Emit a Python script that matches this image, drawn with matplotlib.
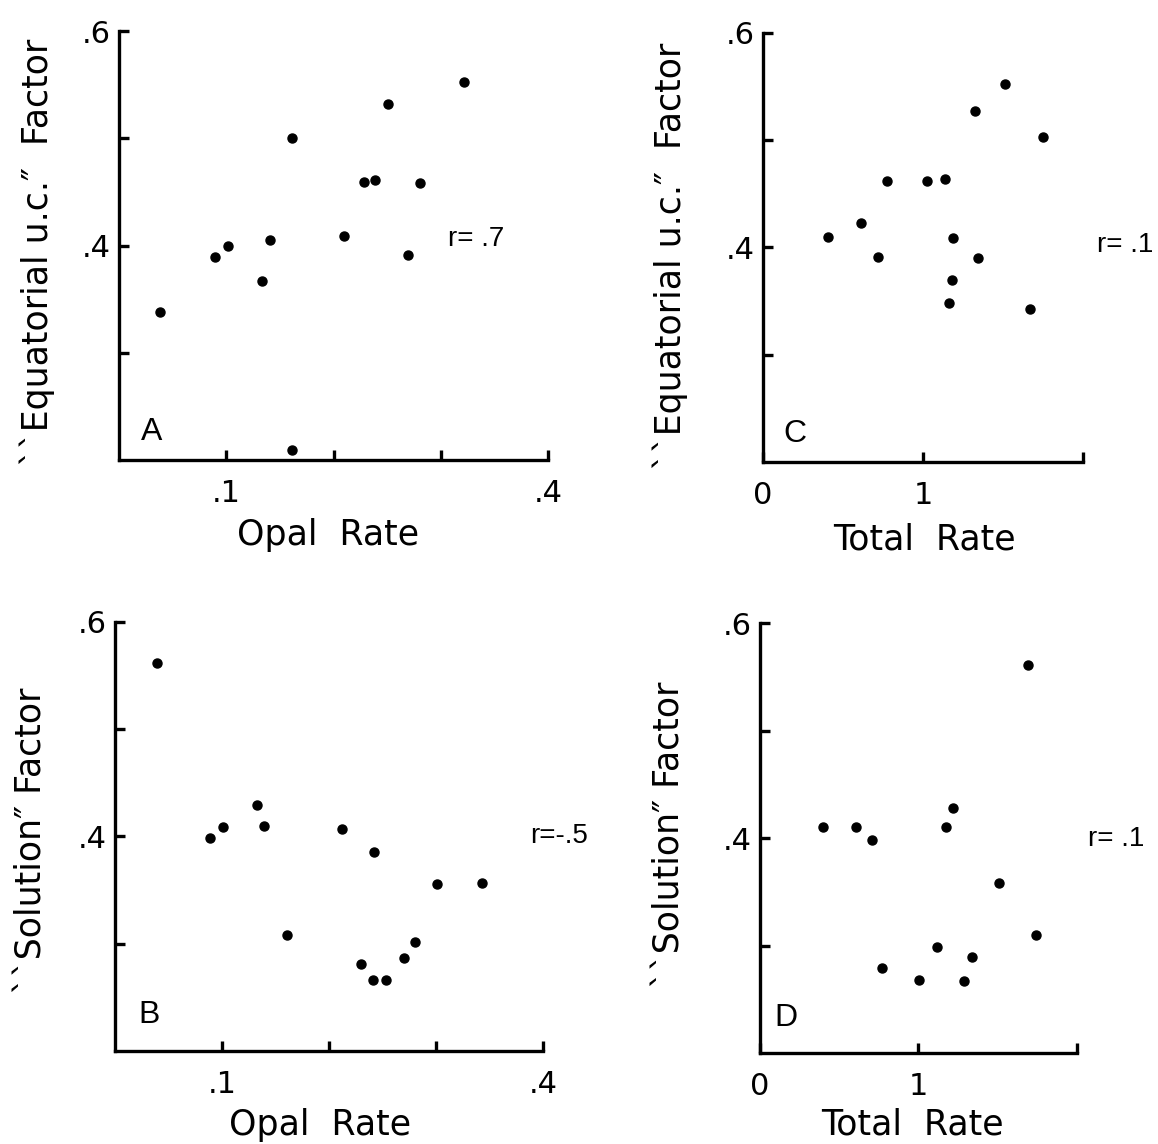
import matplotlib
matplotlib.use('Agg')
import matplotlib.pyplot as plt

plt.rcParams['font.family'] = ['DejaVu Sans']

# A: opal rate vs "equatorial u.c." factor
opal_a = [0.038, 0.089, 0.102, 0.133, 0.141, 0.161, 0.161, 0.210, 0.228, 0.239, 0.251, 0.269, 0.281, 0.322]
equat_a = [0.338, 0.389, 0.400, 0.367, 0.405, 0.500, 0.209, 0.409, 0.459, 0.461, 0.532, 0.391, 0.458, 0.552]

# B: opal rate vs "solution" factor
opal_b = [0.039, 0.089, 0.101, 0.133, 0.139, 0.161, 0.212, 0.242, 0.230, 0.241, 0.253, 0.270, 0.280, 0.301, 0.343]
solut_b = [0.562, 0.399, 0.409, 0.429, 0.410, 0.308, 0.407, 0.386, 0.281, 0.266, 0.266, 0.287, 0.302, 0.356, 0.357]

# C: total rate vs "equatorial u.c." factor
total_c = [0.406, 0.610, 0.721, 0.774, 1.027, 1.137, 1.185, 1.183, 1.164, 1.326, 1.347, 1.514, 1.751, 1.667]
equat_c = [0.410, 0.423, 0.391, 0.462, 0.462, 0.464, 0.409, 0.370, 0.348, 0.527, 0.390, 0.552, 0.503, 0.343]

# D: total rate vs "solution" factor
total_d = [0.396, 0.604, 0.704, 0.771, 1.005, 1.118, 1.174, 1.218, 1.287, 1.338, 1.509, 1.692, 1.741]
solut_d = [0.410, 0.410, 0.398, 0.279, 0.268, 0.299, 0.410, 0.428, 0.267, 0.289, 0.358, 0.561, 0.310]

opal_ticks = [0.1, 0.2, 0.3, 0.4]
opal_ticklabels = ['.1', '', '', '.4']
total_ticks = [0, 1, 2]
total_ticklabels = ['0', '1', '']
factor_ticks = [0.3, 0.4, 0.5, 0.6]
factor_ticklabels = ['', '.4', '', '.6']

equat_label = '``Equatorial u.c.\u2033  Factor'
solut_label = '``Solution\u2033 Factor'

fig = plt.figure(figsize=(11.58, 11.44), dpi=100)


def panel(rect, x, y, xlim, xticks, xticklabels, xlabel, ylabel, letter, letter_pos,
          rtext, rpos, xlab_pos, ylab_pos):
    ax = fig.add_axes(rect)
    ax.plot(x, y, 'o', color='black', markersize=6.5, clip_on=False)
    ax.set_xlim(*xlim)
    ax.set_ylim(0.2, 0.6)
    for s in ['top', 'right']:
        ax.spines[s].set_visible(False)
    for s in ['left', 'bottom']:
        ax.spines[s].set_linewidth(2.4)
        ax.spines[s].set_capstyle('projecting')
    ax.set_xticks(xticks)
    ax.set_xticklabels(xticklabels)
    ax.set_yticks(factor_ticks)
    ax.set_yticklabels(factor_ticklabels)
    ax.tick_params(direction='in', length=7, width=2.4, labelsize=22)
    ax.tick_params(axis='x', pad=14)
    ax.tick_params(axis='y', pad=6)
    ax.set_xlabel(xlabel, fontsize=25)
    ax.set_ylabel(ylabel, fontsize=25)
    ax.xaxis.set_label_coords(*xlab_pos)
    ax.xaxis.label.set_va('center')
    ax.yaxis.set_label_coords(*ylab_pos)
    ax.yaxis.label.set_va('center')
    # panel letter and correlation, in a narrower Helvetica-like face
    ax.text(letter_pos[0], letter_pos[1], letter, fontsize=23, va='center', ha='left',
            family='Liberation Sans')
    ax.text(rpos[0], rpos[1], rtext, fontsize=20, va='center', ha='left',
            family='Liberation Sans')
    return ax


panel([0.1028, 0.5979, 0.3705, 0.375], opal_a, equat_a, (0, 0.4), opal_ticks, opal_ticklabels,
      'Opal  Rate', equat_label, 'A', (0.020, 0.226), 'r= .7', (0.307, 0.406),
      (0.487, -0.175), (-0.19, 0.485))

panel([0.6589, 0.5962, 0.2763, 0.375], total_c, equat_c, (0, 2), total_ticks, total_ticklabels,
      'Total  Rate', equat_label, 'C', (0.13, 0.226), 'r= .1', (2.09, 0.402),
      (0.506, -0.18), (-0.29, 0.48))

panel([0.0993, 0.0813, 0.3696, 0.375], opal_b, solut_b, (0, 0.4), opal_ticks, opal_ticklabels,
      'Opal  Rate', solut_label, 'B', (0.022, 0.234), 'r=-.5', (0.388, 0.40),
      (0.48, -0.172), (-0.194, 0.49))

panel([0.6563, 0.0795, 0.2737, 0.3759], total_d, solut_d, (0, 2), total_ticks, total_ticklabels,
      'Total  Rate', solut_label, 'D', (0.088, 0.233), 'r= .1', (2.07, 0.399),
      (0.48, -0.165), (-0.284, 0.507))

fig.savefig('out.png', dpi=100)
